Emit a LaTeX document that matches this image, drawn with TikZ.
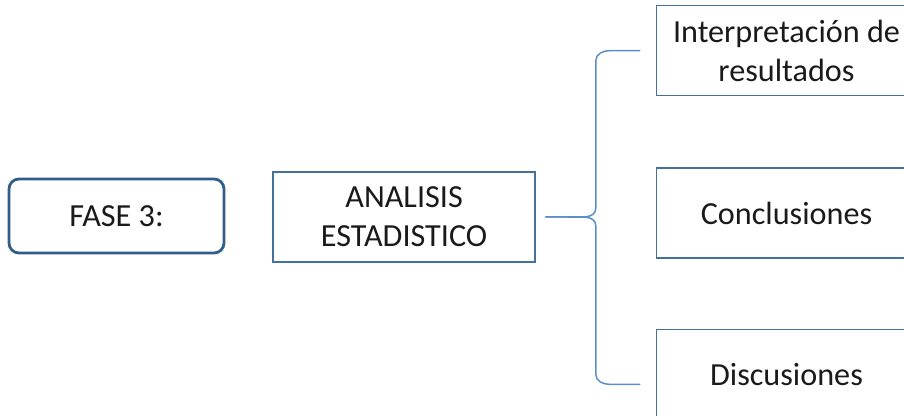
\documentclass[tikz,border=0pt]{standalone}
\usepackage{fontspec}
\setmainfont{Carlito}
\usetikzlibrary{positioning}
\definecolor{faseblue}{HTML}{2F5D8C}
\definecolor{boxblue}{HTML}{41719C}
\definecolor{braceblue}{HTML}{5B8FCB}
\definecolor{textgray}{HTML}{1A1A1A}
\tikzset{
  phase/.style={draw=faseblue, line width=1.4pt, rounded corners=5pt, align=center,
    text=textgray, minimum width=107.5pt, minimum height=37pt,
    font=\fontsize{16.1}{19.5}\selectfont},
  topic/.style={draw=boxblue, line width=.7pt, align=center, text=textgray,
    minimum width=131pt, minimum height=45pt, font=\fontsize{16.1}{19.5}\selectfont},
  result/.style={topic, minimum width=130pt},
  brace/.style={draw=braceblue, line width=.75pt, line cap=round},
}
\begin{document}
\begin{tikzpicture}

\useasboundingbox (0,0) rectangle (452pt,-208pt);
\clip (0,0) rectangle (452pt,-208pt);

% Phase and topic
\node[phase] (fase) at (58.25pt,-108pt) {FASE 3:};
\node[topic, right=23.5pt of fase, yshift=-.5pt] (analisis) {ANALISIS\\ESTADISTICO};

% Results
\node[result, right=60pt of analisis, yshift=2pt] (conclusiones) {Conclusiones};
\node[result, above=35.5pt of conclusiones] (interpretacion) {Interpretación de\\resultados};
\node[result, below=35pt of conclusiones] (discusiones) {Discusiones};

% Brace
\coordinate[right=5pt of analisis.east] (tip);
\coordinate (spine) at ([xshift=25pt]tip);
\coordinate[left=8pt of interpretacion.west] (topend);
\coordinate[left=8pt of discusiones.west, yshift=-5pt] (botend);

\draw[brace] (topend) -- ++(-15pt,0pt) to[out=180,in=90] ([yshift=-5pt]spine |- topend)
  -- ([yshift=4.5pt]spine) to[out=-90,in=0] ([xshift=11pt]tip) -- (tip);
\draw[brace] (tip) -- ([xshift=11pt]tip) to[out=0,in=90] ([yshift=-4.5pt]spine)
  -- ([yshift=5pt]spine |- botend) to[out=-90,in=180] ([xshift=-15pt]botend) -- (botend);

\end{tikzpicture}
\end{document}
